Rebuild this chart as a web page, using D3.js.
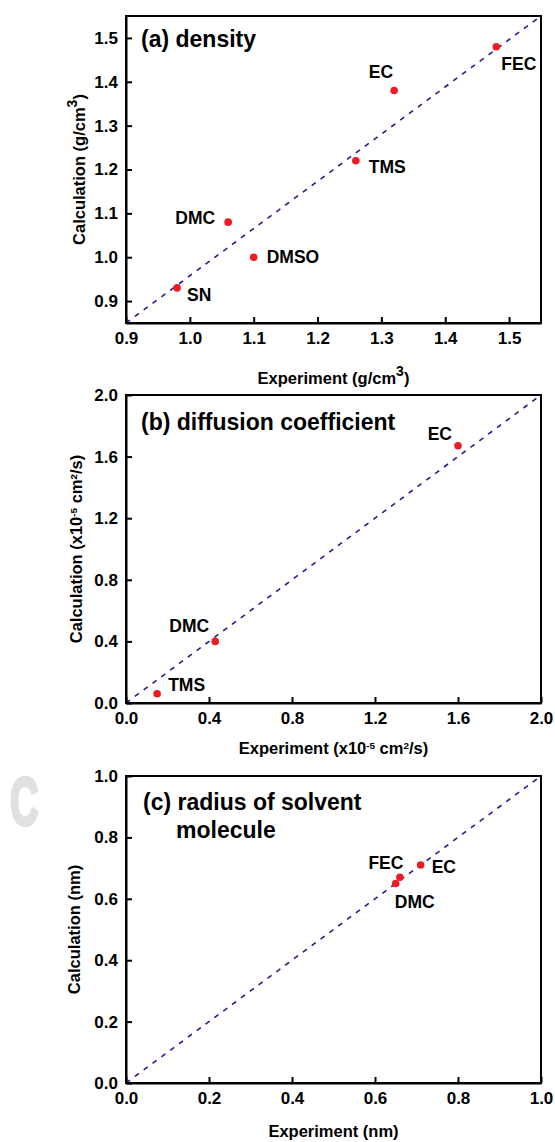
<!DOCTYPE html>
<html>
<head>
<meta charset="utf-8">
<script src="https://cdn.jsdelivr.net/npm/d3@7"></script>
<style>
  html, body { margin: 0; padding: 0; background: #fff; }
  svg { display: block; }
  text { font-family: "Liberation Sans", Arial, sans-serif; font-weight: bold; fill: #000; }
</style>
</head>
<body>
<script>
// ---------- data ----------
const densityNames = ["SN", "DMC", "DMSO", "TMS", "EC", "FEC"];
const densityExp   = [0.98, 1.06, 1.10, 1.26, 1.32, 1.48];
const densityCalc  = [0.93, 1.08, 1.00, 1.22, 1.38, 1.48];
const densityTicks = [0.9, 1.0, 1.1, 1.2, 1.3, 1.4, 1.5];

const diffNames = ["TMS", "DMC", "EC"];
const diffExp   = [0.15, 0.43, 1.60];
const diffCalc  = [0.06, 0.40, 1.67];
const diffTicks = [0.0, 0.4, 0.8, 1.2, 1.6, 2.0];

const radiusNames = ["DMC", "FEC", "EC"];
const radiusExp   = [0.65, 0.66, 0.71];
const radiusCalc  = [0.65, 0.67, 0.71];
const radiusTicks = [0.0, 0.2, 0.4, 0.6, 0.8, 1.0];

// ---------- layout ----------
const W = 555, H = 1142;
const svg = d3.select("body").append("svg").attr("width", W).attr("height", H);

// watermark letter
svg.append("text")
  .attr("transform", "translate(10,825) scale(0.58,1)")
  .style("font-size", "68px").style("fill", "#e1e1e1")
  .attr("stroke", "#e1e1e1").attr("stroke-width", 3.5).attr("stroke-linejoin", "round")
  .text("C");

const panels = [
  {
    names: densityNames, xs: densityExp, ys: densityCalc, ticks: densityTicks,
    xDom: [0.9, 1.55], yDom: [0.85, 1.55], top: 16, bottom: 323,
    title: [{t: "(a) density", x: 141, y: 47}],
    xTitle: {parts: [["Experiment (g/cm", 0], ["3", 1], [")", 0]], y: 384, supSize: 0.85},
    yTitle: {parts: [["Calculation (g/cm", 0], ["3", 1], [")", 0]], x: 85, supSize: 0.85},
    labels: {SN: [10, 13, "start"], DMC: [-13, 2, "end"], DMSO: [13, 6, "start"],
             TMS: [13, 12, "start"], EC: [-1, -13, "end"], FEC: [5, 23, "start"]}
  },
  {
    names: diffNames, xs: diffExp, ys: diffCalc, ticks: diffTicks,
    xDom: [0, 2], yDom: [0, 2], top: 395, bottom: 703,
    title: [{t: "(b) diffusion coefficient", x: 141, y: 430}],
    xTitle: {parts: [["Experiment (x10", 0], ["-5", 1], [" cm", 0], ["2", 1], ["/s)", 0]], y: 754, supSize: 0.6},
    yTitle: {parts: [["Calculation (x10", 0], ["-5", 1], [" cm", 0], ["2", 1], ["/s)", 0]], x: 82, supSize: 0.6},
    labels: {TMS: [11, -3, "start"], DMC: [-6, -9, "end"], EC: [-6, -6, "end"]}
  },
  {
    names: radiusNames, xs: radiusExp, ys: radiusCalc, ticks: radiusTicks,
    xDom: [0, 1], yDom: [0, 1], top: 776, bottom: 1083,
    title: [{t: "(c) radius of solvent", x: 143, y: 810}, {t: "molecule", x: 176, y: 838}],
    xTitle: {parts: [["Experiment (nm)", 0]], y: 1137, supSize: 1},
    yTitle: {parts: [["Calculation (nm)", 0]], x: 80, supSize: 1},
    labels: {DMC: [-1, 25, "start"], FEC: [3.5, -8, "end"], EC: [11, 8, "start"]}
  }
];

const LEFT = 126, RIGHT = 541;
const fmt = d3.format(".1f");

function addParts(sel, parts, supSize) {
  parts.forEach(([s, sup]) => {
    const ts = sel.append("tspan").text(s);
    if (sup) ts.attr("baseline-shift", "super").style("font-size", (supSize * 100) + "%");
  });
}

panels.forEach(p => {
  const x = d3.scaleLinear().domain(p.xDom).range([LEFT, RIGHT]);
  const y = d3.scaleLinear().domain(p.yDom).range([p.bottom, p.top]);
  const g = svg.append("g");

  // frame
  g.append("rect")
    .attr("x", LEFT).attr("y", p.top)
    .attr("width", RIGHT - LEFT).attr("height", p.bottom - p.top)
    .attr("fill", "none").attr("stroke", "#000").attr("stroke-width", 2);

  // diagonal reference line
  const diag = [[p.xDom[0], p.yDom[0]], [p.xDom[1], p.yDom[1]]];
  g.append("path")
    .attr("d", d3.line().x(d => x(d[0])).y(d => y(d[1]))(diag))
    .attr("fill", "none").attr("stroke", "#1f1f8f").attr("stroke-width", 1.6)
    .attr("stroke-dasharray", "5,6");

  // axes
  const xAxis = d3.axisBottom(x).tickValues(p.ticks).tickFormat(fmt)
    .tickSize(-6).tickSizeOuter(0).tickPadding(9);
  const yAxis = d3.axisLeft(y).tickValues(p.ticks).tickFormat(fmt)
    .tickSize(-6).tickSizeOuter(0).tickPadding(8);
  const gx = g.append("g").attr("transform", `translate(0,${p.bottom})`).call(xAxis);
  const gy = g.append("g").attr("transform", `translate(${LEFT},0)`).call(yAxis);
  [gx, gy].forEach(a => {
    a.select(".domain").attr("stroke", "#000").attr("stroke-width", 2);
    a.selectAll(".tick line").attr("stroke", "#000").attr("stroke-width", 2);
    a.selectAll(".tick text")
      .style("font-family", "'Liberation Sans', Arial, sans-serif")
      .style("font-weight", "bold").style("font-size", "17px").attr("fill", "#000");
  });

  // points
  const pts = p.names.map((n, i) => ({n, x: p.xs[i], y: p.ys[i]}));
  g.selectAll("circle.pt").data(pts).enter().append("circle")
    .attr("class", "pt")
    .attr("cx", d => x(d.x)).attr("cy", d => y(d.y)).attr("r", 3.8)
    .attr("fill", "#ec1c24");

  // point labels
  g.selectAll("text.lbl").data(pts).enter().append("text")
    .attr("class", "lbl")
    .attr("x", d => x(d.x) + p.labels[d.n][0])
    .attr("y", d => y(d.y) + p.labels[d.n][1])
    .attr("text-anchor", d => p.labels[d.n][2])
    .style("font-size", "17.5px")
    .text(d => d.n);

  // panel title
  p.title.forEach(t => {
    g.append("text").attr("x", t.x).attr("y", t.y)
      .style("font-size", "23px").text(t.t);
  });

  // axis titles
  const xt = g.append("text")
    .attr("x", (LEFT + RIGHT) / 2).attr("y", p.xTitle.y)
    .attr("text-anchor", "middle").style("font-size", "16.5px");
  addParts(xt, p.xTitle.parts, p.xTitle.supSize);

  const yt = g.append("text")
    .attr("transform", `translate(${p.yTitle.x},${(p.top + p.bottom) / 2}) rotate(-90)`)
    .attr("text-anchor", "middle").style("font-size", "16.5px");
  addParts(yt, p.yTitle.parts, p.yTitle.supSize);
});
</script>
</body>
</html>
